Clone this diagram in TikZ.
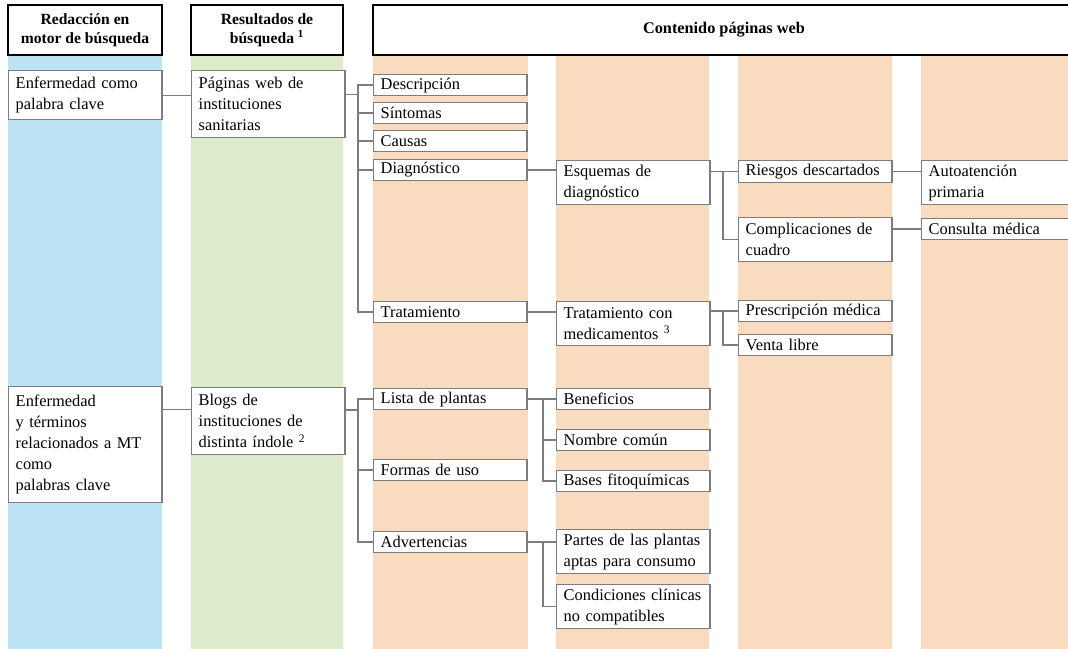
\documentclass[tikz,border=0pt]{standalone}
\usepackage{fontspec}
\setmainfont{Liberation Serif}
\usepackage{tikz}

\definecolor{azul}{RGB}{190,227,245}
\definecolor{verde}{RGB}{221,235,203}
\definecolor{naranja}{RGB}{249,220,191}
\definecolor{linea}{RGB}{125,125,125}

\begin{document}
\begin{tikzpicture}[x=0.75pt, y=-0.75pt,
  caja/.style={draw=linea, line width=1.1pt, fill=white, anchor=north west,
    inner xsep=5.25pt, inner ysep=1pt, text width=104.5pt, align=left,
    minimum height=15.5pt, font=\fontsize{12.3}{15.75}\selectfont},
  cabecera/.style={draw=black, line width=1.5pt, fill=white, align=center,
    minimum height=37.5pt, font=\fontsize{11.7}{14}\selectfont\bfseries},
  conector/.style={draw=linea, line width=0.9pt}]
  \useasboundingbox (0,0) rectangle (1068,649);
  \fill[white] (0,0) rectangle (1068,649);

  % franjas de fondo
  \fill[azul] (8,55) rectangle (162,650);
  \fill[verde] (191,55) rectangle (343,650);
  \fill[naranja] (373,55) rectangle (528,650);
  \fill[naranja] (556,55) rectangle (709,650);
  \fill[naranja] (738,55) rectangle (892,650);
  \fill[naranja] (921,55) rectangle (1070,650);

  % cabeceras
  \node (cab1) [cabecera, minimum width=115.5pt] at (85, 30) {Redacción en\\motor de búsqueda};
  \node (cab2) [cabecera, minimum width=114pt] at (267, 30) {Resultados de\\búsqueda \textsuperscript{1}};
  \node (cab3) [cabecera, minimum width=526.5pt, font=\fontsize{12.2}{14}\selectfont\bfseries] at (724, 30) {Contenido páginas web};

  % columna 1 y 2
  \node (enf1) [caja, minimum height=36.75pt] at (8, 70) {Enfermedad como\\palabra clave};
  \node (enf2) [caja, minimum height=87pt] at (8, 386) {Enfermedad\\y términos\\relacionados a MT\\como\\palabras clave};
  \node (pag) [caja, minimum height=50.25pt] at (191, 70) {Páginas web de\\instituciones\\sanitarias};
  \node (blogs) [caja, minimum height=50.25pt] at (191, 387) {Blogs de\\instituciones de\\distinta índole \textsuperscript{2}};

  % columna 3
  \node (desc) [caja] at (373, 74) {Descripción};
  \node (sint) [caja] at (373, 102) {Síntomas};
  \node (caus) [caja] at (373, 130) {Causas};
  \node (diag) [caja] at (373, 159) {Diagnóstico};
  \node (trat) [caja] at (373, 301) {Tratamiento};
  \node (lista) [caja] at (373, 388) {Lista de plantas};
  \node (formas) [caja] at (373, 459) {Formas de uso};
  \node (advert) [caja] at (373, 531) {Advertencias};

  % columna 4
  \node (esq) [caja, minimum height=33pt] at (556, 160) {Esquemas de\\diagnóstico};
  \node (tcm) [caja, minimum height=33pt] at (556, 301) {Tratamiento con\\medicamentos \textsuperscript{3}};
  \node (benef) [caja] at (556, 388) {Beneficios};
  \node (nombre) [caja] at (556, 429) {Nombre común};
  \node (bases) [caja] at (556, 470) {Bases fitoquímicas};
  \node (partes) [caja, minimum height=33pt] at (556, 529) {Partes de las plantas\\aptas para consumo};
  \node (cond) [caja, minimum height=33pt] at (556, 584) {Condiciones clínicas\\no compatibles};

  % columna 5
  \node (riesgos) [caja, minimum height=16.5pt] at (738, 160) {Riesgos descartados};
  \node (compl) [caja, minimum height=33pt] at (738, 217) {Complicaciones de\\cuadro};
  \node (presc) [caja] at (738, 300) {Prescripción médica};
  \node (venta) [caja] at (738, 334) {Venta libre};

  % columna 6
  \node (auto) [caja, minimum height=33pt] at (921, 160) {Autoatención\\primaria};
  \node (consulta) [caja] at (921, 218) {Consulta médica};

  % troncos
  \coordinate (t1) at (358, 0);
  \coordinate (t3) at (543, 0);
  \coordinate (t4) at (723, 0);

  \draw[conector] (enf1.east) -- (enf1.east -| pag.west);
  \draw[conector] ([yshift=9pt]blogs.west -| enf2.east) -- ([yshift=9pt]blogs.west);

  \draw[conector] ([yshift=7.5pt]pag.east) -- ([yshift=7.5pt]pag.east -| t1);
  \draw[conector] (desc.west) -| (t1 |- trat.west) -- (trat.west);
  \draw[conector] (sint.west) -- (sint.west -| t1);
  \draw[conector] (caus.west) -- (caus.west -| t1);
  \draw[conector] (diag.west) -- (diag.west -| t1);

  \draw[conector] ([yshift=8.5pt]blogs.east) -- ([yshift=8.5pt]blogs.east -| t1);
  \draw[conector] (lista.west) -| (t1 |- advert.west) -- (advert.west);
  \draw[conector] (formas.west) -- (formas.west -| t1);

  \draw[conector] (diag.east) -- (diag.east -| esq.west);
  \draw[conector] (trat.east) -- (trat.east -| tcm.west);

  \draw[conector] (lista.east) -- (lista.east -| benef.west);
  \draw[conector] (t3 |- benef.west) |- (bases.west);
  \draw[conector] (nombre.west) -- (nombre.west -| t3);
  \draw[conector] (advert.east) -- (advert.east -| partes.west);
  \draw[conector] (t3 |- advert.east) |- (cond.west);

  \draw[conector] (esq.east |- riesgos.west) -- (riesgos.west);
  \draw[conector] (t4 |- riesgos.west) |- (compl.west);
  \draw[conector] (tcm.east |- presc.west) -- (presc.west);
  \draw[conector] (t4 |- presc.west) |- (venta.west);

  \draw[conector] (riesgos.east) -- (riesgos.east -| auto.west);
  \draw[conector] (consulta.west -| compl.east) -- (consulta.west);
\end{tikzpicture}
\end{document}
